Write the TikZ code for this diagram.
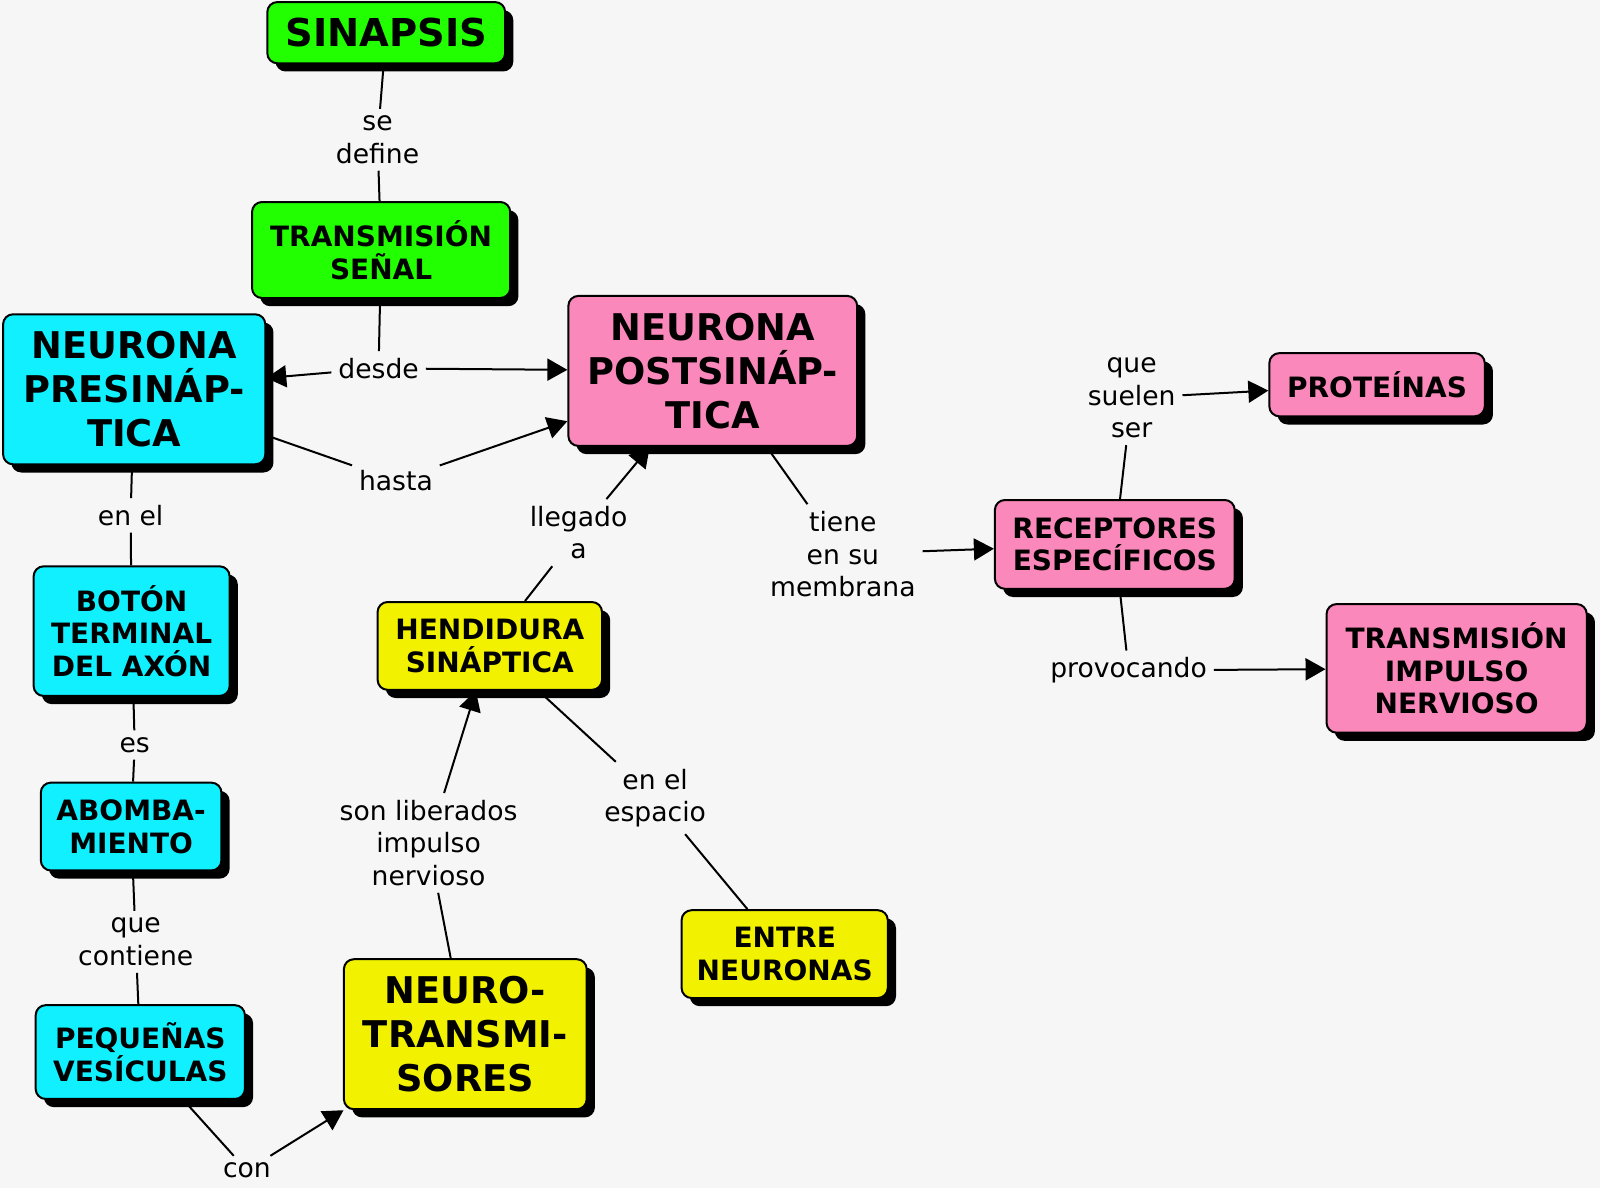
\documentclass[tikz,border=0pt]{standalone}
\usepackage{fontspec}
\setmainfont{DejaVu Sans}
\usetikzlibrary{arrows.meta,shadows}
\definecolor{verde}{HTML}{22FF00}
\definecolor{cian}{HTML}{11F0FF}
\definecolor{rosa}{HTML}{FA88BA}
\definecolor{amarillo}{HTML}{F2F200}
\definecolor{fondo}{HTML}{F6F6F6}
\tikzset{
  concepto/.style={draw=black, line width=1pt, rounded corners=5pt, align=center, inner sep=0pt,
    font=\bfseries\fontsize{14}{16.3}\selectfont,
    drop shadow={shadow xshift=4.1pt, shadow yshift=-4.1pt, fill=black, opacity=1}},
  grande/.style={font=\bfseries\fontsize{18.4}{22}\selectfont},
  enlace/.style={align=center, inner sep=3pt, font=\fontsize{13.3}{16.3}\selectfont},
  flecha/.style={-{Triangle[length=10pt,width=11pt]}},
}
\begin{document}
\begin{tikzpicture}[x=0.5102pt, y=-0.5102pt, line width=1pt]
	\fill[fondo] (0,0) rectangle (1568,1164);
	\useasboundingbox (0,0) rectangle (1568,1164);
	% los conceptos
	\node[concepto, grande, font=\bfseries\fontsize{19.2}{22}\selectfont, fill=verde, minimum width=118.9pt, minimum height=30.6pt] (sinapsis) at (378.5,32) {SINAPSIS};
	\node[concepto, fill=verde, minimum width=129.1pt, minimum height=48pt] (senal) at (373.5,245) {TRANSMISIÓN\\SEÑAL};
	\node[concepto, grande, fill=cian, minimum width=131.1pt, minimum height=75pt] (pre) at (131.5,381.5) {NEURONA\\PRESINÁP-\\TICA};
	\node[concepto, grande, fill=rosa, minimum width=144.4pt, minimum height=75pt] (post) at (698.5,363.5) {NEURONA\\POSTSINÁP-\\TICA};
	\node[concepto, fill=rosa, minimum width=107.7pt, minimum height=31.6pt] (proteinas) at (1349.5,377) {PROTEÍNAS};
	\node[concepto, fill=rosa, minimum width=119.9pt, minimum height=44.4pt] (receptores) at (1092.5,533.5) {RECEPTORES\\ESPECÍFICOS};
	\node[concepto, fill=rosa, minimum width=130.1pt, minimum height=64.3pt] (impulso) at (1427.5,655) {TRANSMISIÓN\\IMPULSO\\NERVIOSO};
	\node[concepto, fill=cian, minimum width=98pt, minimum height=64.8pt] (boton) at (129,618.5) {BOTÓN\\TERMINAL\\DEL AXÓN};
	\node[concepto, fill=cian, minimum width=90.3pt, minimum height=43.9pt] (abomba) at (128.5,810) {ABOMBA-\\MIENTO};
	\node[concepto, fill=cian, minimum width=104.6pt, minimum height=46.9pt] (vesiculas) at (137.5,1031) {PEQUEÑAS\\VESÍCULAS};
	\node[concepto, fill=amarillo, minimum width=112.2pt, minimum height=43.9pt] (hendidura) at (480,633) {HENDIDURA\\SINÁPTICA};
	\node[concepto, grande, fill=amarillo, minimum width=121.4pt, minimum height=75pt] (neurotrans) at (456,1013.5) {NEURO-\\TRANSMI-\\SORES};
	\node[concepto, fill=amarillo, minimum width=103.1pt, minimum height=43.9pt] (entre) at (769,935) {ENTRE\\NEURONAS};
	% las palabras de enlace
	\node[enlace] (sedefine) at (370,137) {se\\define};
	\node[enlace] (desde) at (371,361) {desde};
	\node[enlace] (hasta) at (388,471) {hasta};
	\node[enlace] (enel) at (128,505) {en el};
	\node[enlace] (es) at (132,730) {es};
	\node[enlace] (contiene) at (133,923) {que\\contiene};
	\node[enlace] (con) at (242,1147) {con};
	\node[enlace] (liberados) at (420,826) {son liberados\\impulso\\nervioso};
	\node[enlace] (espacio) at (642,782) {en el\\espacio};
	\node[enlace] (llegado) at (567,522) {llegado\\a};
	\node[enlace] (membrana) at (826,543) {tiene\\en su\\membrana};
	\node[enlace] (suelen) at (1109,390) {que\\suelen\\ser};
	\node[enlace] (provocando) at (1106,657) {provocando};
	% los conectores
	\draw (sinapsis) -- (sedefine);
	\draw (sedefine) -- (senal);
	\draw (senal) -- (desde);
	\draw[flecha] (desde) -- (pre);
	\draw[flecha] (desde) -- (post);
	\draw (pre) -- (hasta);
	\draw[flecha] (hasta) -- (post);
	\draw (pre) -- (enel);
	\draw (enel) -- (boton);
	\draw (boton) -- (es);
	\draw (es) -- (abomba);
	\draw (abomba) -- (contiene);
	\draw (contiene) -- (vesiculas);
	\draw (vesiculas) -- (con);
	\draw[flecha] (con) -- (neurotrans);
	\draw (neurotrans) -- (liberados);
	\draw[flecha] (liberados) -- (hendidura);
	\draw (hendidura) -- (espacio);
	\draw (espacio) -- (entre);
	\draw (hendidura) -- (llegado);
	\draw[flecha] (llegado) -- (post);
	\draw (post) -- (membrana);
	\draw[flecha] (membrana) -- (receptores);
	\draw (receptores) -- (suelen);
	\draw[flecha] (suelen) -- (proteinas);
	\draw (receptores) -- (provocando);
	\draw[flecha] (provocando) -- (impulso);
\end{tikzpicture}
\end{document}
